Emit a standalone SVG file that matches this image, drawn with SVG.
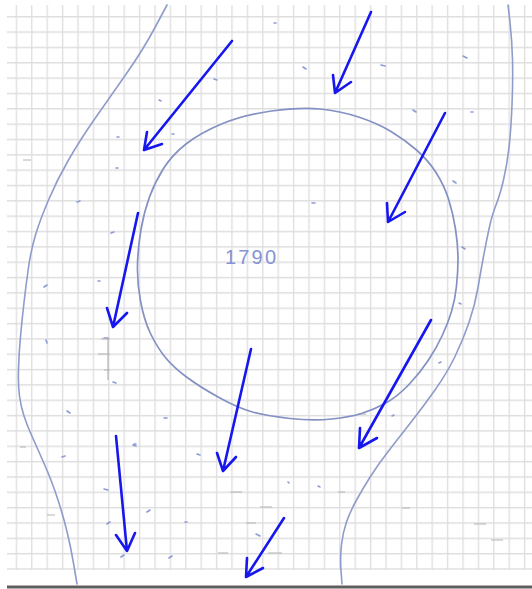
<svg xmlns="http://www.w3.org/2000/svg" width="532" height="589" viewBox="0 0 532 589">
<style>
.curve{fill:none;stroke:#8e9ccb;stroke-width:1.6;stroke-linecap:round;stroke-linejoin:round}
.ring{fill:none;stroke:#8391c4;stroke-width:1.7}
.arrow{fill:none;stroke:#1616ee;stroke-width:2.6;stroke-linecap:round;stroke-linejoin:round}
.speck{fill:none;stroke:#8d9bd6;stroke-width:1.6;stroke-linecap:round}
.gspeck{fill:none;stroke:#b4b4b4;stroke-width:1.2}
.label{font-family:"Liberation Sans",Arial,sans-serif;font-size:20px;fill:#8593d4}
</style>
<defs>
<pattern id="grid" patternUnits="userSpaceOnUse" x="0.3" y="0.7" width="15.4" height="15.34">
<path d="M0,0.7 H15.4 M0.7,0 V15.34" stroke="#dedede" stroke-width="1.3" fill="none"/>
</pattern>
</defs>
<rect width="532" height="589" fill="#ffffff"/>
<rect x="7" y="5" width="525" height="565" fill="url(#grid)"/>
<line x1="7" y1="587" x2="532" y2="587" stroke="#5e5e5e" stroke-width="3"/>

<g id="specks">
<path class="speck" d="M159,100 l2,1 M117,137 l2,0 M172,134 l2,0 M116,168 l2,0 M214,79 l3,1 M303,67 l3,2 M381,65 l4,1 M463,56 l4,2 M413,110 l3,2 M471,112 l2,0 M453,181 l3,2 M274,23 l2,0 M312,203 l3,0 M77,202 l3,-1 M111,233 l3,-1 M44,287 l3,-2 M98,281 l2,0 M46,340 l1,3 M104,338 l4,0 M113,382 l3,1 M67,411 l3,2 M62,457 l3,-1 M133,445 l3,1 M164,418 l3,0 M462,247 l3,2 M459,303 l2,1 M439,363 l2,-1 M392,416 l2,-1 M197,454 l3,1 M134,444 l2,0 M104,489 l4,1 M147,512 l3,-2 M107,524 l3,-2 M185,522 l2,0 M121,557 l3,-2 M169,558 l3,-2 M256,534 l4,2 M288,482 l1,1 M318,486 l2,1"/>
<path class="gspeck" d="M108,337 V380 M101,339 h9 M98,354 h12 M104,370 h6 M20,447 h6 M23,160 h8 M47,515 h8 M230,492 h12 M260,507 h12 M218,553 h10 M246,523 h10 M268,553 h14 M402,508 h8 M474,524 h12 M491,540 h12 M338,492 h7 M358,414 h8"/>
</g>

<g id="left-boundary">
<path class="curve" d="M167,5 L155,27.5 Q143,50 126.5,73.5 Q110,97 95,118.5 Q80,140 68.5,160 Q57,180 48.5,200 Q40,220 35.5,235 Q31,250 28.5,267.5 Q26,285 24,302.5 Q22,320 20.5,336.5 Q19,353 18.5,369 Q18,385 19.5,396 Q21,407 24,416 Q27,425 31,434 Q35,443 39,452 Q43,461 47.5,471.5 Q52,482 57.5,498.5 Q63,515 67,531.5 Q71,548 74,566 L77,584"/>
</g>

<g id="right-boundary">
<path class="curve" d="M508,5 L510,22.5 Q512,40 512.5,60 Q513,80 512,105 Q511,130 509,147.5 Q507,165 503.5,180 Q500,195 496,205 Q492,215 489,229 Q486,243 483.5,256.5 Q481,270 478,287.5 Q475,305 469,322.5 Q463,340 455,356.5 Q447,373 435,390 Q423,407 410,423.5 Q397,440 387,453 Q377,466 369.5,478 Q362,490 356,501 Q350,512 346.5,522 Q343,532 341.5,544.5 Q340,557 341,570.5 L342,584"/>
</g>

<g id="circle-1790">
<path class="ring" d="M320,109 Q340,111 358.5,117 Q377,123 391,131.5 Q405,140 416.5,150 Q428,160 436,172.5 Q444,185 448.5,199 Q453,213 455.5,229 Q458,245 458,258.5 Q458,272 456.5,286 Q455,300 451.5,311.5 Q448,323 442.5,335 Q437,347 428.5,360 Q420,373 408.5,385 Q397,397 385,403.5 Q373,410 361.5,413.5 Q350,417 331.5,419 Q313,421 290,418.5 Q267,416 252.5,412 Q238,408 219,397.5 Q200,387 186.5,377 Q173,367 165,357 Q157,347 150.5,333.5 Q144,320 140.5,301 Q137,282 137.5,264.5 Q138,247 141,229.5 Q144,212 149.5,197 Q155,182 163.5,168.5 Q172,155 186,144 Q200,133 221.5,124 Q243,115 271.5,111 Q300,107 320,109 Z"/>
<text class="label" x="225" y="264" textLength="51" lengthAdjust="spacing">1790</text>
</g>

<g id="arrows">
<g id="arrow-1"><path class="arrow" d="M232,41 L144,150 M147,132 L144,150 L162,144"/></g>
<g id="arrow-2"><path class="arrow" d="M371,12 L335,93 M333,75 L335,93 L351,82"/></g>
<g id="arrow-3"><path class="arrow" d="M445,113 L388,222 M387,203 L388,222 L405,212"/></g>
<g id="arrow-4"><path class="arrow" d="M138,213 L113,327 M107,308 L113,327 L127,313"/></g>
<g id="arrow-5"><path class="arrow" d="M251,349 L223,471 M217,453 L223,471 L236,457"/></g>
<g id="arrow-6"><path class="arrow" d="M431,320 L359,448 M360,428 L359,448 L377,438"/></g>
<g id="arrow-7"><path class="arrow" d="M116,436 L127,551 M116,535 L127,551 L135,533"/></g>
<g id="arrow-8"><path class="arrow" d="M284,518 L246,577 M247,558 L246,577 L263,568"/></g>
</g>
</svg>
